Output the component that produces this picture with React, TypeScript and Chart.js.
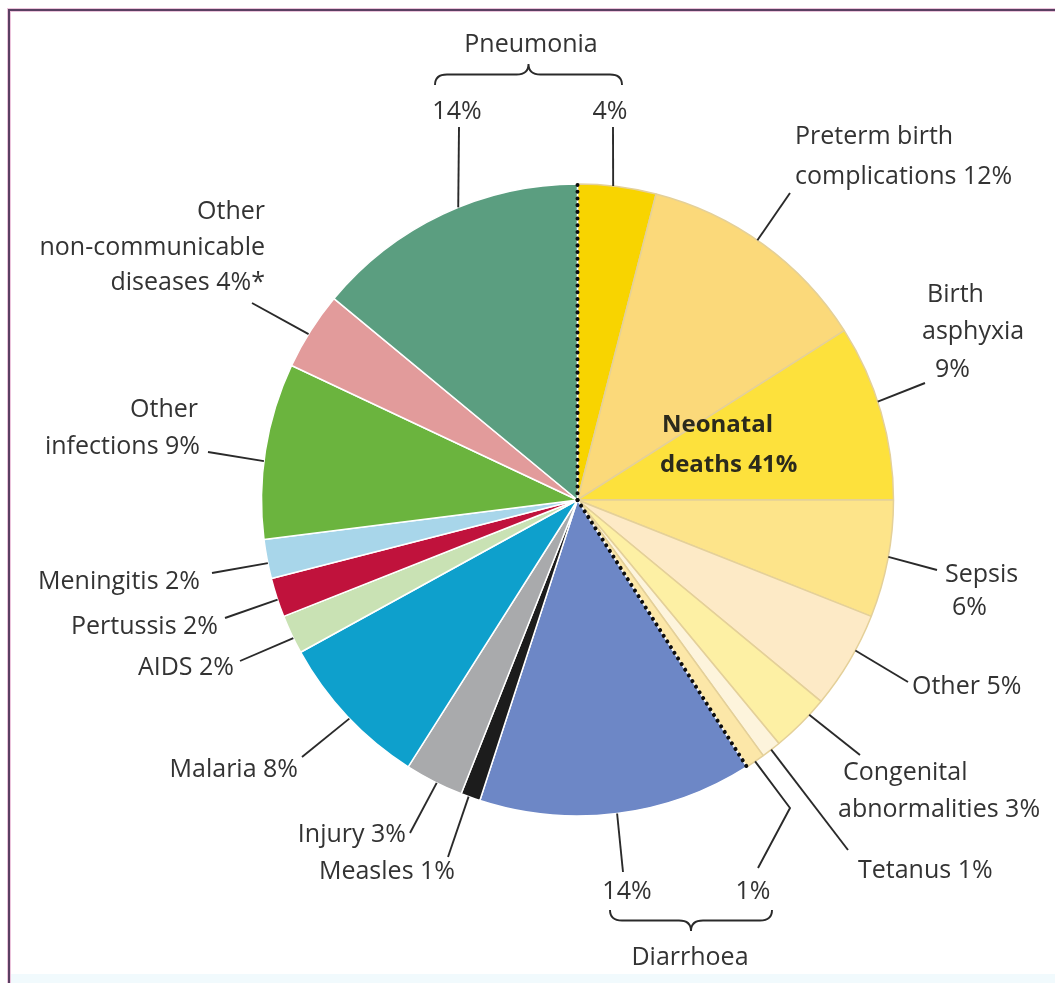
import React, { useEffect, useRef } from 'react';
import { Chart, registerables } from 'chart.js';

Chart.register(...registerables);

// ---- Data (clockwise from 12 o'clock) ----
const causes = [
  'Pneumonia (neonatal)', 'Preterm birth complications', 'Birth asphyxia', 'Sepsis',
  'Other (neonatal)', 'Congenital abnormalities', 'Tetanus', 'Diarrhoea (neonatal)',
  'Diarrhoea', 'Measles', 'Injury', 'Malaria', 'AIDS', 'Pertussis', 'Meningitis',
  'Other infections', 'Other non-communicable diseases', 'Pneumonia',
];
const shares = [4, 12, 9, 6, 5, 3, 1, 1, 14, 1, 3, 8, 2, 2, 2, 9, 4, 14];
const isNeonatal = [true, true, true, true, true, true, true, true, false, false, false, false, false, false, false, false, false, false];
const sliceColors = [
  '#f8d400', '#fbd97a', '#fde13c', '#fde48a', '#fdeac6', '#fdf0a4', '#fdf4dc', '#fce7a8',
  '#6d87c6', '#1c1c1c', '#a9aaac', '#0ea0cc', '#c9e2b4', '#c0123c', '#a8d6ea', '#6bb43e', '#e29b9b', '#5b9e80',
];
const neonatalTotalLabel = ['Neonatal', 'deaths 41%'];

// ---- Annotation layout (offsets from pie centre, px) ----
type Line = { t: string; dx: number; dy: number; align: CanvasTextAlign };
type Ann = { slice: number; frac: number; lines: Line[]; leader: [number, number][] };

const annotations: Ann[] = [
  { slice: 17, frac: 0.56, lines: [{ t: '14%', dx: -120.5, dy: -388, align: 'center' }], leader: [[-118.5, -373]] },
  { slice: 0, frac: 0.45, lines: [{ t: '4%', dx: 32.5, dy: -388, align: 'center' }], leader: [[35.5, -373]] },
  { slice: 1, frac: 0.47, lines: [
      { t: 'Preterm birth', dx: 217.5, dy: -363, align: 'left' },
      { t: 'complications 12%', dx: 217.5, dy: -323, align: 'left' }], leader: [[212.5, -307]] },
  { slice: 2, frac: 0.44, lines: [
      { t: 'Birth', dx: 349.5, dy: -205, align: 'left' },
      { t: 'asphyxia', dx: 344.5, dy: -168, align: 'left' },
      { t: '9%', dx: 357.5, dy: -130, align: 'left' }], leader: [[347.5, -117]] },
  { slice: 3, frac: 0.48, lines: [
      { t: 'Sepsis', dx: 367.5, dy: 75, align: 'left' },
      { t: '6%', dx: 374.5, dy: 108, align: 'left' }], leader: [[359.5, 70]] },
  { slice: 4, frac: 0.38, lines: [{ t: 'Other 5%', dx: 334.5, dy: 187, align: 'left' }], leader: [[330.5, 182]] },
  { slice: 5, frac: 0.3, lines: [
      { t: 'Congenital', dx: 265.5, dy: 273, align: 'left' },
      { t: 'abnormalities 3%', dx: 260.5, dy: 310, align: 'left' }], leader: [[282.5, 255]] },
  { slice: 6, frac: 0.5, lines: [{ t: 'Tetanus 1%', dx: 280.5, dy: 371, align: 'left' }], leader: [[270.5, 350]] },
  { slice: 7, frac: 0.5, lines: [{ t: '1%', dx: 175.5, dy: 392, align: 'center' }], leader: [[180.5, 368], [212.5, 308]] },
  { slice: 8, frac: 0.5, lines: [{ t: '14%', dx: 49.5, dy: 392, align: 'center' }], leader: [[45.5, 372]] },
  { slice: 9, frac: 0.6, lines: [{ t: 'Measles 1%', dx: -122.5, dy: 372, align: 'right' }], leader: [[-129.5, 357]] },
  { slice: 10, frac: 0.45, lines: [{ t: 'Injury 3%', dx: -171.5, dy: 335, align: 'right' }], leader: [[-167.5, 333]] },
  { slice: 11, frac: 0.48, lines: [{ t: 'Malaria 8%', dx: -279.5, dy: 270, align: 'right' }], leader: [[-275.5, 257]] },
  { slice: 12, frac: 0.4, lines: [{ t: 'AIDS 2%', dx: -343.5, dy: 168, align: 'right' }], leader: [[-337.5, 161]] },
  { slice: 13, frac: 0.45, lines: [{ t: 'Pertussis 2%', dx: -359.5, dy: 127, align: 'right' }], leader: [[-352.5, 118]] },
  { slice: 14, frac: 0.4, lines: [{ t: 'Meningitis 2%', dx: -377.5, dy: 82, align: 'right' }], leader: [[-365.5, 73]] },
  { slice: 15, frac: 0.44, lines: [
      { t: 'Other', dx: -379.5, dy: -90, align: 'right' },
      { t: 'infections 9%', dx: -377.5, dy: -53, align: 'right' }], leader: [[-369.5, -48]] },
  { slice: 16, frac: 0.45, lines: [
      { t: 'Other', dx: -312.5, dy: -288, align: 'right' },
      { t: 'non-communicable', dx: -312.5, dy: -252, align: 'right' },
      { t: 'diseases 4%*', dx: -312.5, dy: -217, align: 'right' }], leader: [[-325.5, -197]] },
];

const groups = [
  { title: 'Pneumonia', tx: -46.5, ty: -455, x1: -142.5, x2: 44.5, yEnd: -415, yTip: -436 },
  { title: 'Diarrhoea', tx: 112.5, ty: 458, x1: 32.5, x2: 194.5, yEnd: 410, yTip: 431 },
];

const FONT = "'Open Sans', sans-serif";
const TEXT_COLOR = '#333333';
const LINE_COLOR = '#2a2a2a';

function brace(ctx: CanvasRenderingContext2D, x1: number, x2: number, yEnd: number, yTip: number) {
  const xm = (x1 + x2) / 2;
  const ym = (yEnd + yTip) / 2;
  const r = 12;
  ctx.beginPath();
  ctx.moveTo(x1, yEnd);
  ctx.quadraticCurveTo(x1, ym, x1 + r, ym);
  ctx.lineTo(xm - r, ym);
  ctx.quadraticCurveTo(xm, ym, xm, yTip);
  ctx.quadraticCurveTo(xm, ym, xm + r, ym);
  ctx.lineTo(x2 - r, ym);
  ctx.quadraticCurveTo(x2, ym, x2, yEnd);
  ctx.stroke();
}

const framePlugin = {
  id: 'frame',
  beforeDraw(chart: any) {
    const { ctx, width, height } = chart;
    ctx.save();
    ctx.fillStyle = '#ffffff';
    ctx.fillRect(0, 0, width, height);
    ctx.fillStyle = '#f1fafd';
    ctx.fillRect(10, height - 9, width - 10, 9);
    ctx.strokeStyle = '#ecc4dc';
    ctx.lineWidth = 4;
    ctx.beginPath();
    ctx.moveTo(width, 10);
    ctx.lineTo(9, 10);
    ctx.lineTo(9, height);
    ctx.stroke();
    ctx.strokeStyle = '#5a3f62';
    ctx.lineWidth = 2;
    ctx.stroke();
    ctx.restore();
  },
};

const annotationPlugin = {
  id: 'annotations',
  afterDatasetsDraw(chart: any) {
    const ctx: CanvasRenderingContext2D = chart.ctx;
    const arcs = chart.getDatasetMeta(0).data;
    if (!arcs.length) return;
    const cx = arcs[0].x;
    const cy = arcs[0].y;
    const R = arcs[0].outerRadius;
    ctx.save();

    // dotted boundary of the neonatal group
    const firstNon = isNeonatal.indexOf(false);
    ctx.strokeStyle = '#0d0d0d';
    ctx.lineWidth = 4;
    ctx.lineCap = 'round';
    ctx.setLineDash([0.1, 6.6]);
    [arcs[0].startAngle, arcs[firstNon].startAngle].forEach((a: number) => {
      ctx.beginPath();
      ctx.moveTo(cx, cy);
      ctx.lineTo(cx + R * Math.cos(a), cy + R * Math.sin(a));
      ctx.stroke();
    });
    ctx.setLineDash([]);
    ctx.lineCap = 'butt';

    // leader lines
    ctx.strokeStyle = LINE_COLOR;
    ctx.lineWidth = 1.9;
    annotations.forEach((an) => {
      const arc = arcs[an.slice];
      const a = arc.startAngle + an.frac * (arc.endAngle - arc.startAngle);
      ctx.beginPath();
      an.leader.forEach(([dx, dy], i) => {
        if (i === 0) ctx.moveTo(cx + dx, cy + dy);
        else ctx.lineTo(cx + dx, cy + dy);
      });
      ctx.lineTo(cx + R * Math.cos(a), cy + R * Math.sin(a));
      ctx.stroke();
    });

    // braces
    groups.forEach((g) => {
      brace(ctx, cx + g.x1, cx + g.x2, cy + g.yEnd, cy + g.yTip);
    });

    // labels
    ctx.fillStyle = TEXT_COLOR;
    ctx.textBaseline = 'middle';
    ctx.font = `25px ${FONT}`;
    annotations.forEach((an) => {
      an.lines.forEach((l) => {
        ctx.textAlign = l.align;
        ctx.fillText(l.t, cx + l.dx, cy + l.dy);
      });
    });
    groups.forEach((g) => {
      ctx.textAlign = 'center';
      ctx.fillText(g.title, cx + g.tx, cy + g.ty);
    });

    // neonatal total
    ctx.fillStyle = '#2b2a1c';
    ctx.font = `bold 24px ${FONT}`;
    ctx.textAlign = 'left';
    ctx.fillText(neonatalTotalLabel[0], cx + 84.5, cy - 75);
    ctx.fillText(neonatalTotalLabel[1], cx + 82.5, cy - 35);
    ctx.restore();
  },
};

export default function App() {
  const ref = useRef<HTMLCanvasElement | null>(null);
  useEffect(() => {
    if (!ref.current) return;
    const chart = new Chart(ref.current, {
      type: 'pie',
      data: {
        labels: causes,
        datasets: [{
          data: shares,
          backgroundColor: sliceColors,
          borderColor: isNeonatal.map((n) => (n ? '#e4d099' : '#ffffff')),
          borderWidth: 1.5,
          hoverOffset: 0,
          offset: 0,
        }],
      },
      options: {
        responsive: false,
        animation: false,
        events: [],
        layout: { padding: { top: 183.25, bottom: 166.25, left: 260.75, right: 160.75 } },
        plugins: { legend: { display: false }, tooltip: { enabled: false } },
      },
      plugins: [framePlugin, annotationPlugin],
    });
    let alive = true;
    if ((document as any).fonts?.load) {
      Promise.all([
        (document as any).fonts.load(`25px ${FONT}`),
        (document as any).fonts.load(`bold 24px ${FONT}`),
      ]).then(() => { if (alive) chart.draw(); }).catch(() => {});
    }
    return () => { alive = false; chart.destroy(); };
  }, []);
  return (
    <div style={{ position: 'absolute', left: 0, top: 0, width: 1055, height: 983 }}>
      <canvas ref={ref} width={1055} height={983} style={{ display: 'block', width: 1055, height: 983 }} />
    </div>
  );
}
